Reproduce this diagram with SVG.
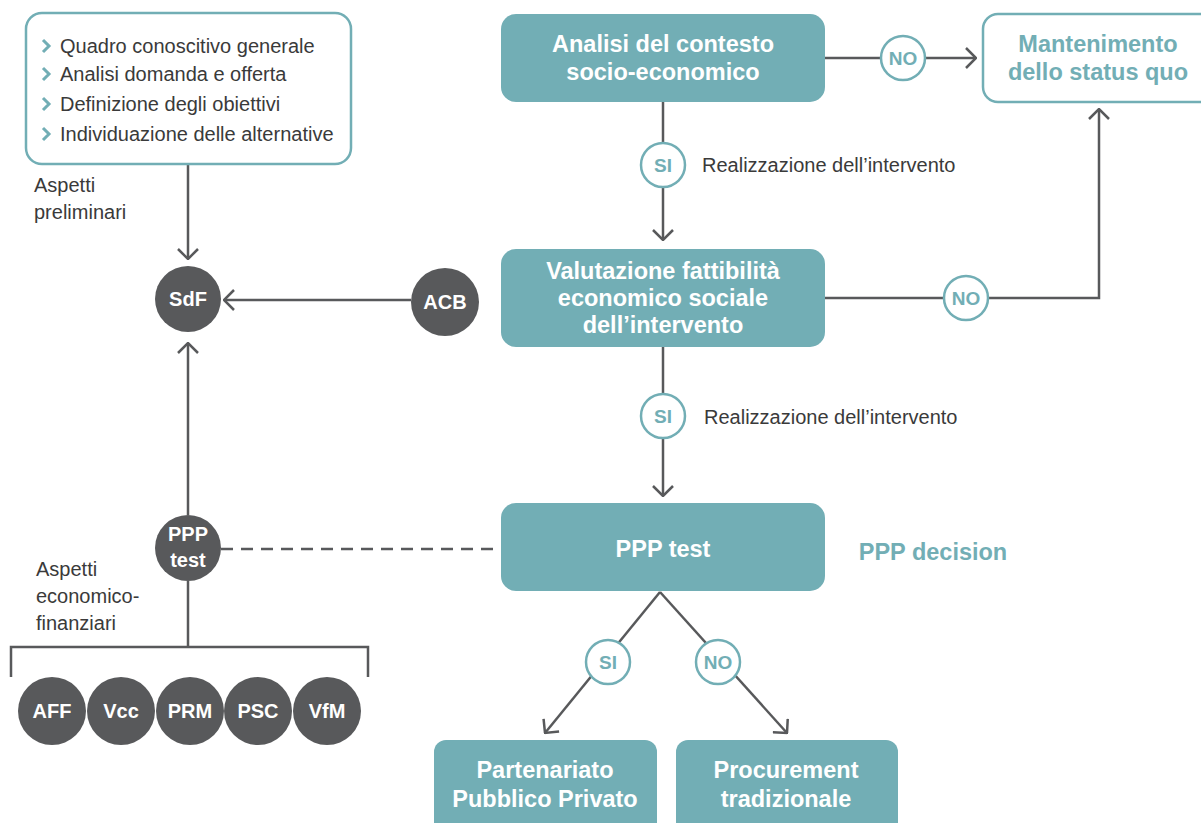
<svg xmlns="http://www.w3.org/2000/svg" width="1201" height="823" viewBox="0 0 1201 823">
<style>
.tbox{fill:#72aeb5;}
.obox{fill:#fff;stroke:#72aeb5;stroke-width:2.5;}
.dark{fill:#58595b;}
.lbl{fill:#fff;stroke:#72aeb5;stroke-width:2.5;}
.ln{fill:none;stroke:#58595b;stroke-width:2.5;}
.dash{fill:none;stroke:#58595b;stroke-width:2.5;stroke-dasharray:12 8;}
text{font-family:"Liberation Sans",Arial,sans-serif;}
.wt{fill:#fff;font-weight:bold;font-size:23.5px;text-anchor:middle;}
.tt{fill:#72aeb5;font-weight:bold;font-size:23.5px;text-anchor:middle;}
.ct{fill:#fff;font-weight:bold;font-size:20px;text-anchor:middle;}
.yn{fill:#72aeb5;font-weight:bold;font-size:19px;text-anchor:middle;}
.gt{fill:#3a3a3a;font-size:20px;}
.bul{fill:none;stroke:#72aeb5;stroke-width:3;}
</style>
<defs>
<marker id="arr" viewBox="0 0 12 22" refX="11" refY="11" markerWidth="12" markerHeight="22" orient="auto" markerUnits="userSpaceOnUse">
<path d="M1,1 L11,11 L1,21" fill="none" stroke="#58595b" stroke-width="2.5"/>
</marker>
</defs>

<g id="connectors">
<line class="ln" x1="188" y1="164" x2="188" y2="259" marker-end="url(#arr)"/>
<line class="ln" x1="411" y1="300" x2="224" y2="300" marker-end="url(#arr)"/>
<line class="ln" x1="188" y1="515" x2="188" y2="343" marker-end="url(#arr)"/>
<line class="dash" x1="221" y1="549" x2="501" y2="549"/>
<polyline class="ln" points="188,581 188,647"/>
<polyline class="ln" points="11,677 11,647 368,647 368,677"/>
<line class="ln" x1="825" y1="58" x2="976" y2="58" marker-end="url(#arr)"/>
<line class="ln" x1="663" y1="102" x2="663" y2="240" marker-end="url(#arr)"/>
<polyline class="ln" points="825,298 1099,298 1099,109" marker-end="url(#arr)"/>
<line class="ln" x1="663" y1="347" x2="663" y2="496" marker-end="url(#arr)"/>
<line class="ln" x1="660" y1="592" x2="545" y2="733" marker-end="url(#arr)"/>
<line class="ln" x1="660" y1="592" x2="787" y2="733" marker-end="url(#arr)"/>
</g>

<g id="preliminari-box">
<rect class="obox" x="26" y="13" width="325" height="151" rx="16"/>
<path class="bul" d="M43,40 L49,46 L43,52 M43,68 L49,74 L43,80 M43,98 L49,104 L43,110 M43,128 L49,134 L43,140"/>
<text class="gt" x="60" y="53">Quadro conoscitivo generale</text>
<text class="gt" x="60" y="81">Analisi domanda e offerta</text>
<text class="gt" x="60" y="111">Definizione degli obiettivi</text>
<text class="gt" x="60" y="141">Individuazione delle alternative</text>
</g>
<g id="aspetti-preliminari">
<text class="gt" x="34" y="192">Aspetti</text>
<text class="gt" x="34" y="219">preliminari</text>
</g>

<g id="sdf"><circle class="dark" cx="188" cy="299" r="33"/><text class="ct" x="188" y="306">SdF</text></g>
<g id="acb"><circle class="dark" cx="445" cy="302" r="34"/><text class="ct" x="445" y="309">ACB</text></g>
<g id="ppp-test-circle"><circle class="dark" cx="188" cy="548" r="33"/><text class="ct" x="188" y="541">PPP</text><text class="ct" x="188" y="567">test</text></g>

<g id="aspetti-economico">
<text class="gt" x="36" y="576">Aspetti</text>
<text class="gt" x="36" y="603">economico-</text>
<text class="gt" x="36" y="630">finanziari</text>
</g>

<g id="aff"><circle class="dark" cx="52" cy="711" r="34"/><text class="ct" x="52" y="718">AFF</text></g>
<g id="vcc"><circle class="dark" cx="121" cy="711" r="34"/><text class="ct" x="121" y="718">Vcc</text></g>
<g id="prm"><circle class="dark" cx="190" cy="711" r="34"/><text class="ct" x="190" y="718">PRM</text></g>
<g id="psc"><circle class="dark" cx="258" cy="711" r="34"/><text class="ct" x="258" y="718">PSC</text></g>
<g id="vfm"><circle class="dark" cx="327" cy="711" r="34"/><text class="ct" x="327" y="718">VfM</text></g>

<g id="analisi">
<rect class="tbox" x="501" y="14" width="324" height="88" rx="15"/>
<text class="wt" x="663" y="52">Analisi del contesto</text>
<text class="wt" x="663" y="80">socio-economico</text>
</g>
<g id="mantenimento">
<rect class="obox" x="983" y="14" width="232" height="88" rx="15"/>
<text class="tt" x="1098" y="52">Mantenimento</text>
<text class="tt" x="1098" y="80">dello status quo</text>
</g>
<g id="valutazione">
<rect class="tbox" x="501" y="249" width="324" height="98" rx="15"/>
<text class="wt" x="663" y="279">Valutazione fattibilità</text>
<text class="wt" x="663" y="306">economico sociale</text>
<text class="wt" x="663" y="333">dell’intervento</text>
</g>
<g id="ppp-test">
<rect class="tbox" x="501" y="503" width="324" height="88" rx="15"/>
<text class="wt" x="663" y="557">PPP test</text>
</g>
<g id="ppp-decision"><text class="tt" x="933" y="560">PPP decision</text></g>
<g id="partenariato">
<rect class="tbox" x="434" y="740" width="223" height="100" rx="12"/>
<text class="wt" x="545" y="778">Partenariato</text>
<text class="wt" x="545" y="807">Pubblico Privato</text>
</g>
<g id="procurement">
<rect class="tbox" x="676" y="740" width="222" height="100" rx="12"/>
<text class="wt" x="786" y="778">Procurement</text>
<text class="wt" x="786" y="807">tradizionale</text>
</g>

<g id="no1"><circle class="lbl" cx="903" cy="58" r="22"/><text class="yn" x="903" y="65">NO</text></g>
<g id="si1"><circle class="lbl" cx="663" cy="165" r="22"/><text class="yn" x="663" y="172">SI</text></g>
<g id="real1"><text class="gt" x="702" y="172">Realizzazione dell’intervento</text></g>
<g id="no2"><circle class="lbl" cx="966" cy="298" r="22"/><text class="yn" x="966" y="305">NO</text></g>
<g id="si2"><circle class="lbl" cx="663" cy="416" r="22"/><text class="yn" x="663" y="423">SI</text></g>
<g id="real2"><text class="gt" x="704" y="424">Realizzazione dell’intervento</text></g>
<g id="si3"><circle class="lbl" cx="608" cy="662" r="22"/><text class="yn" x="608" y="669">SI</text></g>
<g id="no3"><circle class="lbl" cx="718" cy="662" r="22"/><text class="yn" x="718" y="669">NO</text></g>
</svg>
